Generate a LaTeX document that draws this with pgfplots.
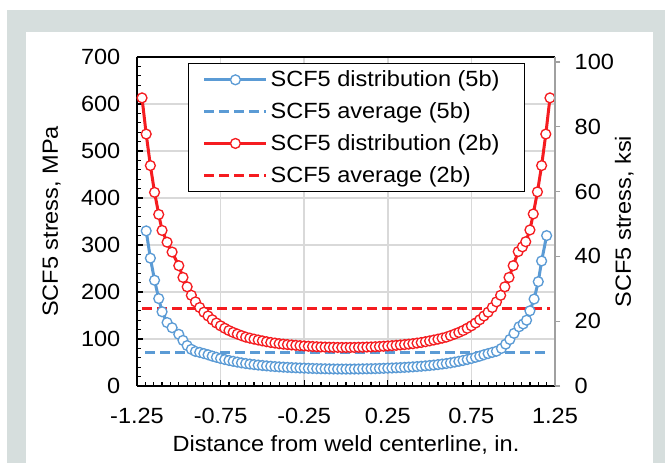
\documentclass[border=0pt]{standalone}
\usepackage{fontspec}
\setmainfont{Liberation Sans}[FakeStretch=1.07]
\usepackage{pgfplots}
\pgfplotsset{compat=1.18}
\definecolor{bgray}{RGB}{214,222,221}
\definecolor{sblue}{RGB}{91,155,213}
\definecolor{sred}{RGB}{245,28,32}
\definecolor{gridc}{RGB}{217,217,217}
\definecolor{axgray}{RGB}{160,160,160}
\newcommand{\cfont}{\fontsize{16.5}{19}\selectfont}
\begin{document}
\begin{tikzpicture}
\useasboundingbox (0,0) rectangle (498.75pt,347.25pt);
\fill[bgray] (5.25pt,0) rectangle (498.75pt,339.75pt);
\fill[white] (19.5pt,0) rectangle (489.75pt,323.25pt);
\begin{axis}[
  scale only axis, width=313.5pt, height=246.75pt,
  at={(102.75pt,57.75pt)}, anchor=south west,
  xmin=-1.25, xmax=1.25, ymin=0, ymax=700,
  axis x line*=box, axis y line*=left,
  xtick pos=left, ytick pos=left,
  xtick={-1.25,-0.75,-0.25,0.25,0.75,1.25},
  xticklabels={-1.25,-0.75,-0.25,0.25,0.75,1.25},
  minor x tick num=9,
  ytick={0,100,...,700}, minor y tick num=4,
  tick align=inside,
  major tick length=4.5pt, minor tick length=3pt,
  xmajorgrids, ymajorgrids, grid style={gridc, line width=1.1pt},
  axis line style={black, line width=1.2pt},
  tick style={black, line width=0.9pt},
  tick label style={font=\cfont},
  /pgf/number format/assume math mode=true,
  xticklabel style={yshift=-13pt},
  yticklabel style={xshift=-9pt},
  xlabel={Distance from weld centerline, in.},
  ylabel={SCF5 stress, MPa},
  label style={font=\cfont},
  xlabel style={at={(axis description cs:0.5,-0.2006)}, anchor=base},
  ylabel style={at={(axis description cs:-0.189,0.5)}, anchor=base},
  legend style={at={(axis description cs:0.122,0.982)}, anchor=north west,
    draw=black, line width=0.9pt, fill=white, font=\cfont,
    inner xsep=10.75pt, inner ysep=3.5pt, row sep=6.4pt,
    nodes={inner sep=2pt}},
  legend cell align=left,
  legend image code/.code={\draw[mark repeat=2,mark phase=2,#1] plot coordinates {(0pt,0pt) (23.25pt,0pt) (46.5pt,0pt)};},
]
\addplot[sblue, line width=2.25pt, mark=*, mark size=3.7pt, mark options={solid, fill=white, draw=sblue, line width=1pt}] coordinates {
(-1.195,330) (-1.17,272) (-1.145,225) (-1.12,186) (-1.10,158) (-1.07,135) (-1.04,124) (-1.00,110) (-0.975,97) (-0.95,86) (-0.925,78) (-0.90,73.5) (-0.875,71.5) (-0.85,69) (-0.825,66.5) (-0.80,63.5) (-0.775,61) (-0.75,58.5) (-0.725,56.3) (-0.70,54.3) (-0.675,52.5) (-0.65,50.8) (-0.625,49.2) (-0.60,47.8) (-0.575,46.6) (-0.55,45.5) (-0.525,44.5) (-0.50,43.6) (-0.475,42.8) (-0.45,42) (-0.425,41.3) (-0.40,40.7) (-0.375,40.1) (-0.35,39.6) (-0.325,39.1) (-0.30,38.7) (-0.275,38.3) (-0.25,38) (-0.225,37.6) (-0.20,37.3) (-0.175,37) (-0.15,36.8) (-0.125,36.6) (-0.10,36.4) (-0.075,36.2) (-0.05,36.1) (-0.025,36) (0,36)
(0.025,36) (0.05,36.1) (0.075,36.2) (0.10,36.4) (0.125,36.6) (0.15,36.8) (0.175,37) (0.20,37.3) (0.225,37.6) (0.25,38) (0.275,38.3) (0.30,38.7) (0.325,39.1) (0.35,39.6) (0.375,40.1) (0.40,40.7) (0.425,41.3) (0.45,42) (0.475,42.8) (0.50,43.6) (0.525,44.5) (0.55,45.5) (0.575,46.6) (0.60,47.8) (0.625,49.2) (0.65,50.8) (0.675,52.5) (0.70,54.3) (0.725,56.3) (0.75,58.5) (0.775,61) (0.80,63.5) (0.825,66.5) (0.85,69) (0.875,71.5) (0.90,74) (0.93,80) (0.955,89) (0.98,99) (1.005,112) (1.035,126) (1.06,132) (1.08,140) (1.10,160) (1.125,185) (1.15,222) (1.17,266) (1.2,320)
};
\addlegendentry{SCF5 distribution (5b)\hspace*{6pt}}
\addplot[sblue, line width=2.25pt, dash pattern=on 7.5pt off 3.75pt] coordinates {(-1.2,72) (1.2,72)};
\addlegendentry{SCF5 average (5b)}
\addplot[sred, line width=2.25pt, mark=*, mark size=3.7pt, mark options={solid, fill=white, draw=sred, line width=1pt}] coordinates {
(-1.22,613) (-1.195,536) (-1.17,469) (-1.145,412) (-1.12,365) (-1.10,331) (-1.07,306) (-1.04,285) (-1.00,256) (-0.975,231) (-0.95,211) (-0.925,193) (-0.90,179) (-0.875,167) (-0.85,157) (-0.825,149) (-0.80,141) (-0.775,134) (-0.75,128) (-0.725,122.8) (-0.70,118) (-0.675,114) (-0.65,110.5) (-0.625,107.2) (-0.60,104) (-0.575,101.8) (-0.55,99.7) (-0.525,97.8) (-0.50,96) (-0.475,94.2) (-0.45,92.6) (-0.425,91.3) (-0.40,90) (-0.375,89) (-0.35,88.1) (-0.325,87.3) (-0.30,86.5) (-0.275,85.8) (-0.25,85.2) (-0.225,84.6) (-0.20,84) (-0.175,83.5) (-0.15,83.1) (-0.125,82.8) (-0.10,82.5) (-0.075,82.3) (-0.05,82.1) (-0.025,82) (0,82)
(0.025,82) (0.05,82.1) (0.075,82.3) (0.10,82.5) (0.125,82.8) (0.15,83.1) (0.175,83.5) (0.20,84) (0.225,84.6) (0.25,85.2) (0.275,85.8) (0.30,86.5) (0.325,87.3) (0.35,88.1) (0.375,89) (0.40,90) (0.425,91.3) (0.45,92.6) (0.475,94.2) (0.50,96) (0.525,97.8) (0.55,99.7) (0.575,101.8) (0.60,104) (0.625,107.2) (0.65,110.5) (0.675,114) (0.70,118) (0.725,122.8) (0.75,128) (0.775,134) (0.80,141) (0.825,149) (0.85,157) (0.875,167) (0.90,179) (0.925,193) (0.95,211) (0.975,231) (1.00,256) (1.03,286) (1.055,296) (1.075,307) (1.10,332) (1.12,366) (1.145,413) (1.17,469) (1.195,536) (1.22,613)
};
\addlegendentry{SCF5 distribution (2b)}
\addplot[sred, line width=2.25pt, dash pattern=on 7.5pt off 3.75pt] coordinates {(-1.22,164) (1.22,164)};
\addlegendentry{SCF5 average (2b)}
\end{axis}
\begin{axis}[
  scale only axis, width=313.5pt, height=246.75pt,
  at={(102.75pt,57.75pt)}, anchor=south west,
  xmin=-1.25, xmax=1.25, ymin=0, ymax=101.52,
  axis x line=none, axis y line*=right,
  ytick={0,20,...,100}, tick align=outside, major tick length=3.75pt,
  y axis line style={axgray, line width=1.2pt},
  ytick style={axgray, line width=0.9pt},
  tick label style={font=\cfont},
  yticklabel style={xshift=7.5pt},
  /pgf/number format/assume math mode=true,
  ylabel={SCF5 stress, ksi},
  label style={font=\cfont},
  ylabel style={at={(axis description cs:1.1818,0.5)}, anchor=base},
]
\addplot[draw=none] coordinates {(0,0)};
\end{axis}
\end{tikzpicture}
\end{document}
